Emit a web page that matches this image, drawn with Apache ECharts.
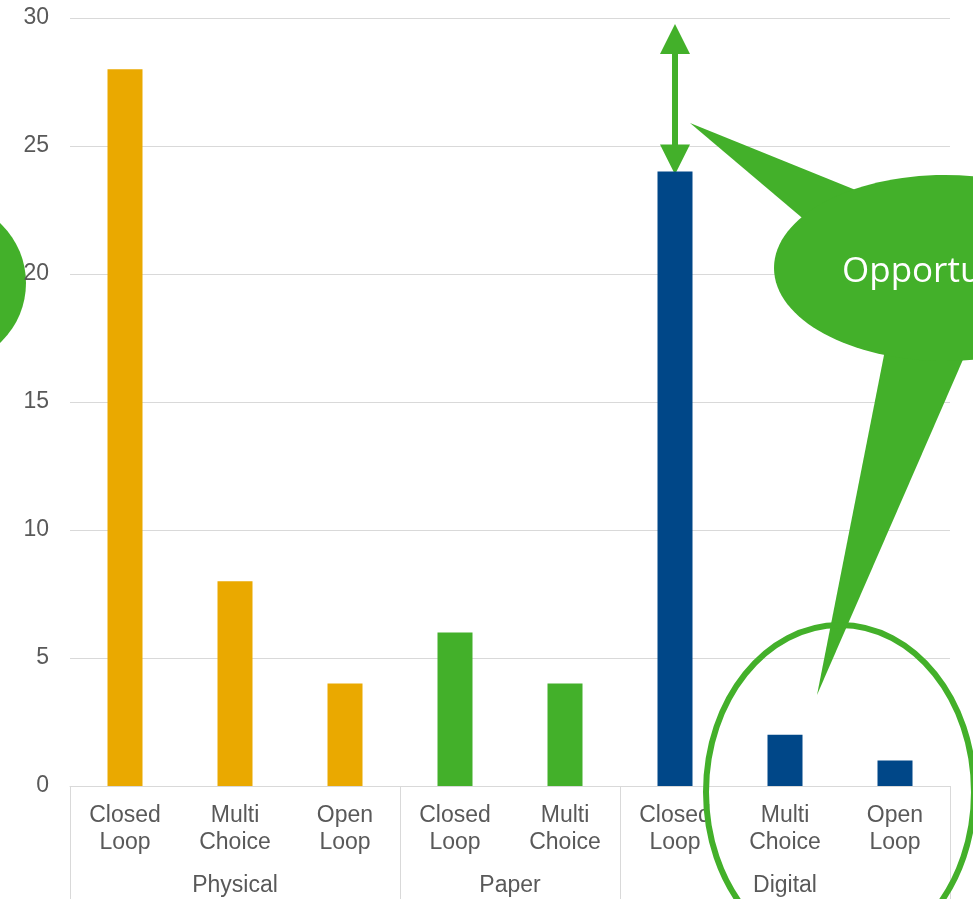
<!DOCTYPE html>
<html>
<head>
<meta charset="utf-8">
<script src="https://cdn.jsdelivr.net/npm/echarts@6/dist/echarts.min.js"></script>
<style>
  html, body { margin: 0; padding: 0; background: #fff; }
  #chart { width: 973px; height: 899px; }
</style>
</head>
<body>
<div id="chart"></div>
<script>
// categories (first level) and their groups (second level)
var categories = ["Closed\nLoop", "Multi\nChoice", "Open\nLoop", "Closed\nLoop", "Multi\nChoice", "Closed\nLoop", "Multi\nChoice", "Open\nLoop"];
var groups = ["Physical", "Paper", "Digital"];
var groupOfBar = [0, 0, 0, 1, 1, 2, 2, 2];
var groupBounds = [0, 3, 5, 8];
var groupCenters = [1.5, 4, 6.5];
var values = [28, 8, 4, 6, 4, 24, 2, 1];
var groupColors = ["#EAA900", "#43B02A", "#004788"];
var yTicks = [0, 5, 10, 15, 20, 25, 30];

var green = "#43B02A";
var labelColor = "#595959";
var font = "Liberation Sans, Arial, sans-serif";

var chartDom = document.getElementById("chart");
var myChart = echarts.init(chartDom);

var option = {
  animation: false,
  grid: { left: 70, right: 23, top: 18, bottom: 113, outerBoundsMode: "none", containLabel: false },
  xAxis: [
    {
      type: "category",
      data: categories,
      axisLine: { lineStyle: { color: "#d9d9d9", width: 1 } },
      axisTick: { show: false },
      axisLabel: {
        color: labelColor,
        fontSize: 23,
        lineHeight: 27,
        fontFamily: font,
        margin: 16,
        interval: 0
      }
    },
    {
      type: "value",
      position: "bottom",
      min: 0,
      max: 8,
      axisLine: { show: false },
      splitLine: { show: false },
      axisTick: {
        show: true,
        customValues: groupBounds,
        length: 130,
        lineStyle: { color: "#d9d9d9", width: 1 }
      },
      axisLabel: {
        customValues: groupCenters,
        color: labelColor,
        fontSize: 23,
        lineHeight: 27,
        fontFamily: font,
        margin: 86,
        formatter: function (v) {
          return groups[groupCenters.indexOf(v)];
        }
      }
    }
  ],
  yAxis: {
    type: "value",
    min: yTicks[0],
    max: yTicks[yTicks.length - 1],
    interval: 5,
    axisLine: { show: false },
    axisTick: { show: false },
    splitLine: { lineStyle: { color: "#d9d9d9", width: 1 } },
    axisLabel: { color: labelColor, fontSize: 23, fontFamily: font, margin: 21 }
  },
  series: [
    {
      type: "bar",
      barWidth: 35,
      data: values.map(function (v, i) {
        return { value: v, itemStyle: { color: groupColors[groupOfBar[i]] } };
      })
    }
  ]
};
myChart.setOption(option);

// annotations, anchored where it makes sense to the chart scales
var ax = myChart.convertToPixel({ xAxisIndex: 0 }, 5);
var yTop = myChart.convertToPixel({ yAxisIndex: 0 }, 30) + 6;
var yBot = myChart.convertToPixel({ yAxisIndex: 0 }, 24) + 3;

myChart.setOption({
  graphic: [
    // left circle (cut off)
    {
      type: "circle",
      shape: { cx: -56, cy: 283, r: 82 },
      style: { fill: green },
      z: 0
    },
    // double arrow
    {
      type: "group",
      z: 10,
      children: [
        {
          type: "line",
          shape: { x1: ax, y1: yTop + 20, x2: ax, y2: yBot - 20 },
          style: { stroke: green, lineWidth: 6 }
        },
        {
          type: "polygon",
          shape: { points: [[ax, yTop], [ax - 15, yTop + 30], [ax + 15, yTop + 30]] },
          style: { fill: green }
        },
        {
          type: "polygon",
          shape: { points: [[ax, yBot], [ax - 15, yBot - 30], [ax + 15, yBot - 30]] },
          style: { fill: green }
        }
      ]
    },
    // speech bubble
    {
      type: "group",
      z: 10,
      children: [
        {
          type: "polygon",
          shape: { points: [[690, 123], [807, 222], [868, 195]] },
          style: { fill: green }
        },
        {
          type: "polygon",
          shape: { points: [[885, 350], [817, 695], [965, 355]] },
          style: { fill: green }
        },
        {
          type: "ellipse",
          shape: { cx: 945, cy: 268, rx: 171, ry: 93 },
          style: { fill: green }
        },
        {
          type: "text",
          x: 842,
          y: 272,
          style: {
            text: "Opportunity",
            fill: "#ffffff",
            fontSize: 35,
            fontFamily: "Open Sans, sans-serif",
            verticalAlign: "middle",
            align: "left"
          }
        }
      ]
    },
    // outline around digital small bars
    {
      type: "ellipse",
      z: 10,
      shape: { cx: 840, cy: 792, rx: 134, ry: 167 },
      style: { fill: "none", stroke: green, lineWidth: 6 }
    }
  ]
});
</script>
</body>
</html>
